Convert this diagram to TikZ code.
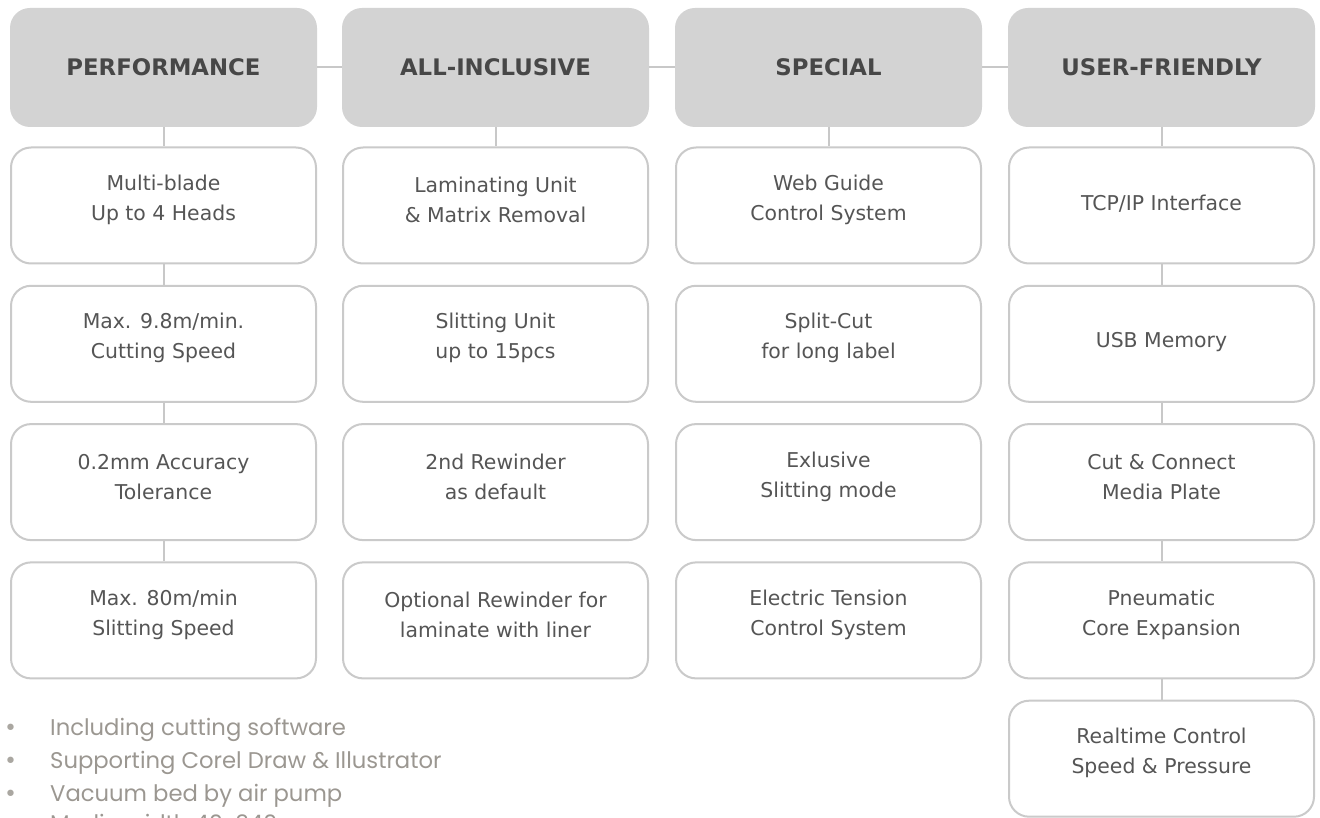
\documentclass[tikz,border=0pt]{standalone}
\usepackage{fontspec}
\setmainfont{DejaVu Sans}
\newfontfamily\bulfont{Poppins}
\definecolor{headfill}{HTML}{D3D3D3}
\definecolor{headtxt}{HTML}{474747}
\definecolor{boxline}{HTML}{CACACA}
\definecolor{itemtxt}{HTML}{555555}
\definecolor{linkc}{HTML}{C8C8C8}
\definecolor{bultxt}{HTML}{9B9791}
\begin{document}
\begin{tikzpicture}[x=1pt,y=-1pt,
  head/.style={fill=headfill, draw=none, rounded corners=20pt, minimum width=307pt, minimum height=119pt, inner sep=0pt,
    font=\fontsize{22.8}{27}\selectfont\bfseries, text=headtxt},
  item/.style={draw=boxline, line width=2pt, fill=white, rounded corners=20pt, minimum width=305pt, minimum height=116pt, inner sep=0pt},
  itemtext/.style={align=center, inner sep=0pt, font=\fontsize{20.4}{30}\selectfont, text=itemtxt},
  link/.style={draw=linkc, line width=2pt},
  bultext/.style={anchor=base west, inner sep=0pt, font=\bulfont\fontsize{22.7}{26}\selectfont, text=bultxt},
  buldot/.style={anchor=base west, inner sep=0pt, font=\fontsize{22}{26}\selectfont, text=bultxt!85}]
\useasboundingbox (0,0) rectangle (1320,818);
\clip (0,0) rectangle (1320,818);

% headers
\node[head] (h1) at (163.5,67.5) {PERFORMANCE};
\node[head] (h2) at (495.5,67.5) {ALL-INCLUSIVE};
\node[head] (h3) at (828.5,67.5) {SPECIAL};
\node[head] (h4) at (1161.5,67.5) {USER-FRIENDLY};

% boxes column 1
\node[item] (a1) at (163.5,205.5) {};
\node[item] (a2) at (163.5,343.8) {};
\node[item] (a3) at (163.5,482.1) {};
\node[item] (a4) at (163.5,620.4) {};
% column 2
\node[item] (b1) at (495.5,205.5) {};
\node[item] (b2) at (495.5,343.8) {};
\node[item] (b3) at (495.5,482.1) {};
\node[item] (b4) at (495.5,620.4) {};
% column 3
\node[item] (c1) at (828.5,205.5) {};
\node[item] (c2) at (828.5,343.8) {};
\node[item] (c3) at (828.5,482.1) {};
\node[item] (c4) at (828.5,620.4) {};
% column 4
\node[item] (d1) at (1161.5,205.5) {};
\node[item] (d2) at (1161.5,343.8) {};
\node[item] (d3) at (1161.5,482.1) {};
\node[item] (d4) at (1161.5,620.4) {};
\node[item] (d5) at (1161.5,758.7) {};

% connectors
\draw[link] (h1.east) -- (h2.west);
\draw[link] (h2.east) -- (h3.west);
\draw[link] (h3.east) -- (h4.west);
\draw[link] (h1.south) -- (a1.north);
\draw[link] (h2.south) -- (b1.north);
\draw[link] (h3.south) -- (c1.north);
\draw[link] (h4.south) -- (d1.north);
\draw[link] (a1.south) -- (a2.north);
\draw[link] (a2.south) -- (a3.north);
\draw[link] (a3.south) -- (a4.north);
\draw[link] (d1.south) -- (d2.north);
\draw[link] (d2.south) -- (d3.north);
\draw[link] (d3.south) -- (d4.north);
\draw[link] (d4.south) -- (d5.north);

% texts column 1
\node[itemtext] (a1t) at (163.5,200) {Multi-blade\\Up to 4 Heads};
\node[itemtext] (a2t) at (163.5,338.3) {Max. 9.8m/min.\\Cutting Speed};
\node[itemtext] (a3t) at (163.5,476.6) {0.2mm Accuracy\\Tolerance};
\node[itemtext] (a4t) at (163.5,614.9) {Max. 80m/min\\Slitting Speed};
% column 2
\node[itemtext] (b1t) at (495.5,200) {Laminating Unit\\\& Matrix Removal};
\node[itemtext] (b2t) at (495.5,338.3) {Slitting Unit\\up to 15pcs};
\node[itemtext] (b3t) at (495.5,476.6) {2nd Rewinder\\as default};
\node[itemtext] (b4t) at (495.5,614.9) {Optional Rewinder for\\laminate with liner};
% column 3
\node[itemtext] (c1t) at (828.5,200) {Web Guide\\Control System};
\node[itemtext] (c2t) at (828.5,338.3) {Split-Cut\\for long label};
\node[itemtext] (c3t) at (828.5,476.6) {Exlusive\\Slitting mode};
\node[itemtext] (c4t) at (828.5,614.9) {Electric Tension\\Control System};
% column 4
\node[itemtext] (d1t) at (1161.5,204) {TCP/IP Interface};
\node[itemtext] (d2t) at (1161.5,342.3) {USB Memory};
\node[itemtext] (d3t) at (1161.5,476.6) {Cut \& Connect\\Media Plate};
\node[itemtext] (d4t) at (1161.5,614.9) {Pneumatic\\Core Expansion};
\node[itemtext] (d5t) at (1161.5,753.2) {Realtime Control\\Speed \& Pressure};

% bullet list
\node[buldot] (k1) at (4,735) {•};
\node[bultext] (l1) at (50,735) {Including cutting software};
\node[buldot] (k2) at (4,768) {•};
\node[bultext] (l2) at (50,768) {Supporting Corel Draw \& Illustrator};
\node[buldot] (k3) at (4,801) {•};
\node[bultext] (l3) at (50,801) {Vacuum bed by air pump};
\node[buldot] (k4) at (4,831) {•};
\node[bultext] (l4) at (50,831) {Media width 40-340};
\end{tikzpicture}
\end{document}
